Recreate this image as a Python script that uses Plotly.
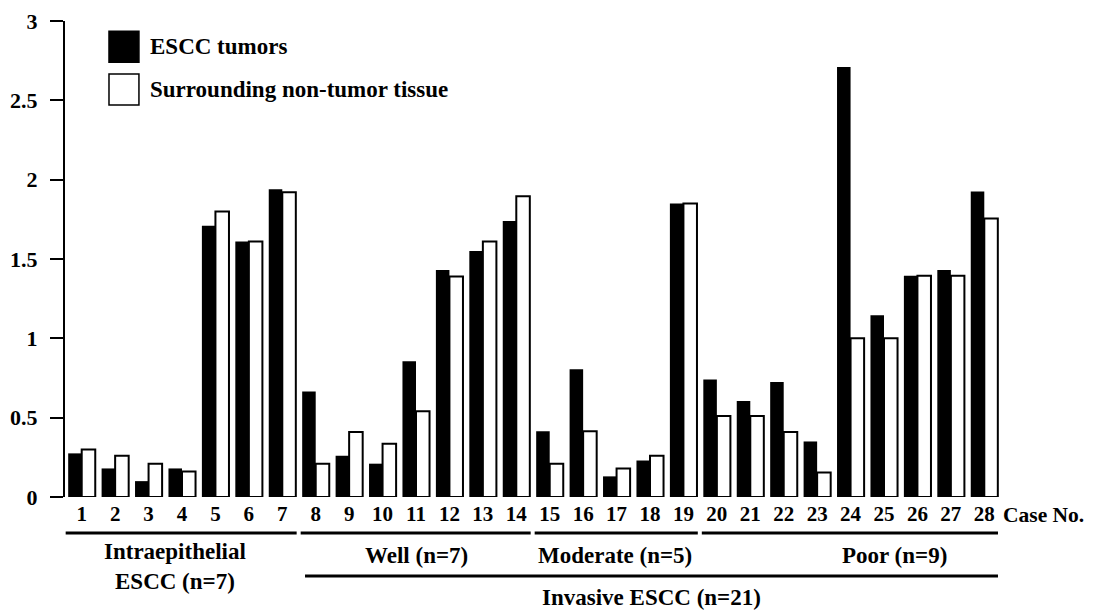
import plotly.graph_objects as go

cases = list(range(1, 29))
case_labels = [str(c) for c in cases]
tumor = [0.275, 0.18, 0.10, 0.18, 1.71, 1.61, 1.94, 0.665, 0.26, 0.21, 0.855, 1.43, 1.55, 1.74,
         0.415, 0.805, 0.13, 0.23, 1.85, 0.74, 0.605, 0.725, 0.35, 2.71, 1.145, 1.395, 1.43, 1.925]
normal = [0.30, 0.26, 0.21, 0.16, 1.80, 1.61, 1.92, 0.21, 0.41, 0.335, 0.54, 1.39, 1.61, 1.895,
          0.21, 0.415, 0.18, 0.26, 1.85, 0.51, 0.51, 0.41, 0.155, 1.00, 1.00, 1.395, 1.395, 1.755]
series_names = ["ESCC tumors", "Surrounding non-tumor tissue"]
y_ticks = [0, 0.5, 1, 1.5, 2, 2.5, 3]
y_tick_labels = ["0", "0.5", "1", "1.5", "2", "2.5", "3"]

# groups: (first case, last case, label)
subgroups = [(1, 7, "Intraepithelial<br>ESCC (n=7)"), (8, 14, "Well (n=7)"),
             (15, 19, "Moderate (n=5)"), (20, 28, "Poor (n=9)")]
supergroup = (8, 28, "Invasive ESCC (n=21)")

FONT = "Liberation Serif, Times New Roman, Times, serif"

fig = go.Figure()
fig.add_trace(go.Bar(x=cases, y=tumor, name=series_names[0],
                     marker=dict(color="black", line=dict(color="black", width=0)),
                     showlegend=False))
fig.add_trace(go.Bar(x=cases, y=normal, name=series_names[1],
                     marker=dict(color="white", line=dict(color="black", width=2)),
                     showlegend=False))

shapes = []
annotations = []

# group lines & labels
label_x = {"Intraepithelial<br>ESCC (n=7)": 3.8, "Well (n=7)": 11.0,
           "Moderate (n=5)": 16.95, "Poor (n=9)": 25.3}
for s, e, lab in subgroups:
    x0 = s - 0.45 if s > 1 else 0.52
    x1 = e + 0.43 if e < 28 else e + 0.41
    shapes.append(dict(type="line", xref="x", yref="paper", x0=x0, x1=x1,
                       y0=-0.0756, y1=-0.0756, line=dict(color="black", width=3)))
    ypos = -0.147 if "<br>" in lab else -0.122
    annotations.append(dict(x=label_x[lab], y=ypos, xref="x", yref="paper",
                            text="<b>" + lab + "</b>", showarrow=False,
                            font=dict(family=FONT, size=23, color="black"),
                            yanchor="middle", align="center"))
s, e, lab = supergroup
shapes.append(dict(type="line", xref="x", yref="paper", x0=s - 0.32, x1=e + 0.41,
                   y0=-0.166, y1=-0.166, line=dict(color="black", width=3)))
annotations.append(dict(x=18.05, y=-0.212, xref="x", yref="paper",
                        text="<b>" + lab + "</b>", showarrow=False,
                        font=dict(family=FONT, size=23, color="black"), yanchor="middle"))

annotations.append(dict(x=1.0, y=-0.0378, xref="paper", yref="paper", text="<b>Case No.</b>",
                        showarrow=False, xanchor="left", yanchor="middle",
                        font=dict(family=FONT, size=21.5, color="black")))

# legend (drawn manually with large swatches)
legend_rows = [(0.946, "black"), (0.856, "white")]
for (yc, col), name in zip(legend_rows, series_names):
    shapes.append(dict(type="rect", xref="paper", yref="paper", x0=0.047, x1=0.079,
                       y0=yc - 0.0326, y1=yc + 0.0326, fillcolor=col,
                       line=dict(color="black", width=1.5)))
    annotations.append(dict(x=0.0887, y=yc, xref="paper", yref="paper", text="<b>" + name + "</b>",
                            showarrow=False, xanchor="left", yanchor="middle",
                            font=dict(family=FONT, size=23, color="black")))

# the page body adds an 8px offset; the figure size/margins compensate for it
fig.update_layout(
    width=1093, height=606,
    margin=dict(l=57, r=100, t=13, b=117),
    paper_bgcolor="white", plot_bgcolor="white",
    barmode="group", bargap=0.19, bargroupgap=0,
    shapes=shapes, annotations=annotations,
    font=dict(family=FONT, color="black"),
)
fig.update_xaxes(range=[0.5, 28.5], tickvals=cases, ticktext=case_labels, automargin=False,
                 showgrid=False, zeroline=False, showline=False, ticks="",
                 tickfont=dict(family=FONT, size=21, color="black", weight="bold"),
                 ticklabelstandoff=2, ticklabeloverflow="allow")
fig.update_yaxes(range=[0, 3], tickvals=y_ticks, ticktext=y_tick_labels, automargin=False,
                 showgrid=False, zeroline=False, showline=True, linecolor="black", linewidth=2,
                 ticks="outside", ticklen=13, tickwidth=2, tickcolor="black",
                 tickfont=dict(family=FONT, size=22, color="black", weight="bold"),
                 ticklabelstandoff=8, ticklabeloverflow="allow")

fig.write_html("out.html")
